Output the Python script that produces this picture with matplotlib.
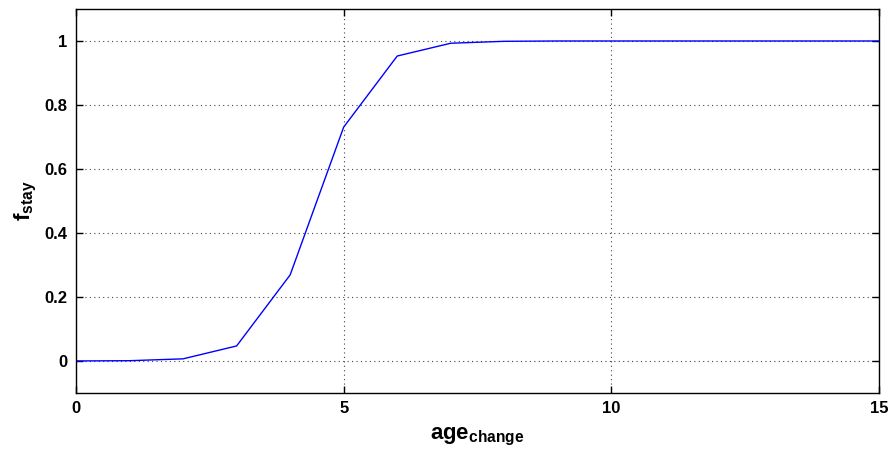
import numpy as np
import matplotlib
matplotlib.use("Agg")
import matplotlib.pyplot as plt

# f_stay against age_change
age_change = [0, 1, 2, 3, 4, 5, 6, 7, 8, 9, 10, 11, 12, 13, 14, 15]
f_stay = [0.0001, 0.0009, 0.0067, 0.047, 0.269, 0.731, 0.953, 0.993,
          0.999, 1.0, 1.0, 1.0, 1.0, 1.0, 1.0, 1.0]

x_ticks = [0, 5, 10, 15]
y_ticks = [0, 0.2, 0.4, 0.6, 0.8, 1]
y_labels = ["0", "0.2", "0.4", "0.6", "0.8", "1"]

plt.rcParams['font.family'] = ['Liberation Sans', 'DejaVu Sans']
plt.rcParams['mathtext.fontset'] = 'custom'
plt.rcParams['mathtext.rm'] = 'Liberation Sans:bold'
plt.rcParams['mathtext.bf'] = 'Liberation Sans:bold'
plt.rcParams['mathtext.it'] = 'Liberation Sans:bold'

fig = plt.figure(figsize=(8.89, 4.54), dpi=100)
ax = fig.add_axes([0.0855, 0.1344, 0.9033, 0.8458])

ax.plot(age_change, f_stay, color='#0000ff', lw=1.0)

ax.set_xlim(0, 15)
ax.set_ylim(-0.1, 1.1)
ax.set_xticks(x_ticks)
ax.set_yticks(y_ticks)
ax.set_yticklabels(y_labels)
ax.grid(True, linestyle=(0, (1, 3)), color='#444444', lw=0.8)
ax.tick_params(direction='in', top=True, right=True, length=5, width=1,
               labelsize=12, pad=6)
for lbl in ax.get_xticklabels() + ax.get_yticklabels():
    lbl.set_fontweight('bold')
for s in ax.spines.values():
    s.set_linewidth(1.0)

ax.set_xlabel(r'$\mathrm{age}_{\mathrm{change}}$', fontsize=16, labelpad=7)
ax.set_ylabel(r'$\mathrm{f}_{\mathrm{stay}}$', fontsize=16, labelpad=4)

fig.savefig("out.png", dpi=100)
